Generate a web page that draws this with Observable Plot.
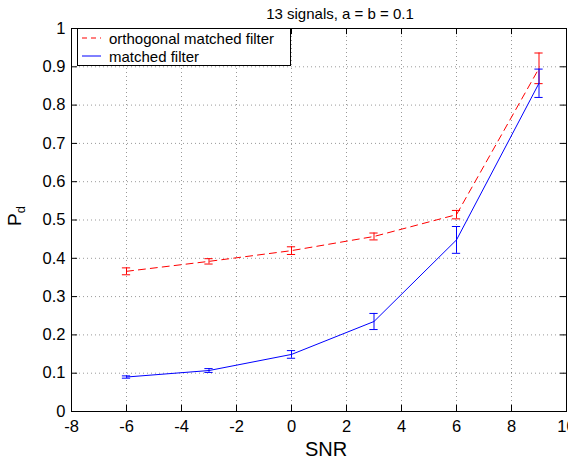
<!DOCTYPE html>
<html>
<head>
<meta charset="utf-8">
<script src="https://cdn.jsdelivr.net/npm/d3@7"></script>
<script src="https://cdn.jsdelivr.net/npm/@observablehq/plot@0.6"></script>
<style>
  html, body { margin: 0; padding: 0; background: #fff; }
  #wrap { position: relative; width: 568px; height: 462px; font-family: "Liberation Sans", Arial, sans-serif; }
  #legend { position: absolute; left: 77px; top: 28px; width: 212px; height: 36px; border: 1px solid #000; background: #fff; font-size: 15px; }
  .row { position: absolute; left: 0; height: 18px; display: flex; align-items: center; white-space: nowrap; }
  .row svg { margin-left: 4px; margin-right: 8px; }
</style>
</head>
<body>
<div id="wrap"></div>
<script>
const snr = [-6, -3, 0, 3, 6, 9];
const pdMatched = [0.090, 0.107, 0.149, 0.235, 0.448, 0.857];
const errMatched = [0.003, 0.005, 0.010, 0.021, 0.035, 0.037];
const pdOrth = [0.366, 0.392, 0.420, 0.457, 0.514, 0.896];
const errOrth = [0.009, 0.007, 0.010, 0.009, 0.011, 0.040];
const xTicks = [-8, -6, -4, -2, 0, 2, 4, 6, 8, 10];
const yTicks = [0, 0.1, 0.2, 0.3, 0.4, 0.5, 0.6, 0.7, 0.8, 0.9, 1];
const seriesNames = ["orthogonal matched filter", "matched filter"];
const titleText = "13 signals, a = b = 0.1";

const mk = (vals, errs) => snr.map((x, i) => ({x, y: vals[i], lo: vals[i] - errs[i], hi: vals[i] + errs[i]}));
const orth = mk(pdOrth, errOrth);
const matched = mk(pdMatched, errMatched);
const capW = 0.15;

function errMarks(data, color) {
  return [
    Plot.ruleX(data, {x: "x", y1: "lo", y2: "hi", stroke: color, strokeWidth: 1}),
    Plot.ruleY(data, {y: "lo", x1: d => d.x - capW, x2: d => d.x + capW, stroke: color, strokeWidth: 1}),
    Plot.ruleY(data, {y: "hi", x1: d => d.x - capW, x2: d => d.x + capW, stroke: color, strokeWidth: 1})
  ];
}

const chart = Plot.plot({
  width: 568,
  height: 462,
  marginLeft: 71,
  marginRight: 2,
  marginTop: 28,
  marginBottom: 51,
  style: {fontFamily: "'Liberation Sans', Arial, sans-serif", background: "#fff", color: "#000"},
  x: {domain: [-8, 10], label: null},
  y: {domain: [0, 1], label: null},
  marks: [
    Plot.gridX(xTicks, {stroke: "#000", strokeOpacity: 0.4, strokeDasharray: "1,3"}),
    Plot.gridY(yTicks, {stroke: "#000", strokeOpacity: 0.4, strokeDasharray: "1,3"}),
    Plot.axisX(xTicks, {tickSize: 0, tickPadding: 9, fontSize: 16.5, label: null, tickFormat: d => String(d)}),
    Plot.axisY(yTicks, {tickSize: 0, tickPadding: 6, fontSize: 16.5, label: null, tickFormat: d => String(+d.toFixed(1))}),
    Plot.ruleX(xTicks, {x: d => d, y1: 0, y2: 0.016, stroke: "#000"}),
    Plot.ruleX(xTicks, {x: d => d, y1: 0.984, y2: 1, stroke: "#000"}),
    Plot.ruleY(yTicks, {y: d => d, x1: -8, x2: -7.78, stroke: "#000"}),
    Plot.ruleY(yTicks, {y: d => d, x1: 9.78, x2: 10, stroke: "#000"}),
    Plot.frame({stroke: "#000"}),
    Plot.line(orth, {x: "x", y: "y", stroke: "#ff0000", strokeWidth: 1, strokeDasharray: "7,5"}),
    ...errMarks(orth, "#ff0000"),
    Plot.line(matched, {x: "x", y: "y", stroke: "#0000ff", strokeWidth: 1}),
    ...errMarks(matched, "#0000ff")
  ]
});

const wrap = document.getElementById("wrap");
wrap.appendChild(chart);
const svg = d3.select(chart);

svg.append("text")
  .attr("x", 340).attr("y", 19)
  .attr("text-anchor", "middle")
  .attr("font-size", 15)
  .attr("fill", "#000")
  .text(titleText);

svg.append("text")
  .attr("x", 326).attr("y", 456)
  .attr("text-anchor", "middle")
  .attr("font-size", 20)
  .attr("fill", "#000")
  .text("SNR");

const yl = svg.append("text")
  .attr("transform", "translate(21,216) rotate(-90)")
  .attr("text-anchor", "middle")
  .attr("fill", "#000");
yl.append("tspan").attr("font-size", 19).text("P");
yl.append("tspan").attr("font-size", 13).attr("dy", 4).text("d");

// legend
const legend = document.createElement("div");
legend.id = "legend";
const styles = [{color: "#ff0000", dash: "5,4"}, {color: "#0000ff", dash: null}];
seriesNames.forEach((name, i) => {
  const row = document.createElement("div");
  row.className = "row";
  row.style.top = (i * 18) + "px";
  const s = styles[i];
  row.innerHTML = `<svg width="19" height="10"><line x1="0" y1="5" x2="19" y2="5" stroke="${s.color}" stroke-width="1" ${s.dash ? `stroke-dasharray="${s.dash}"` : ""}/></svg><span>${name}</span>`;
  legend.appendChild(row);
});
wrap.appendChild(legend);
</script>
</body>
</html>
